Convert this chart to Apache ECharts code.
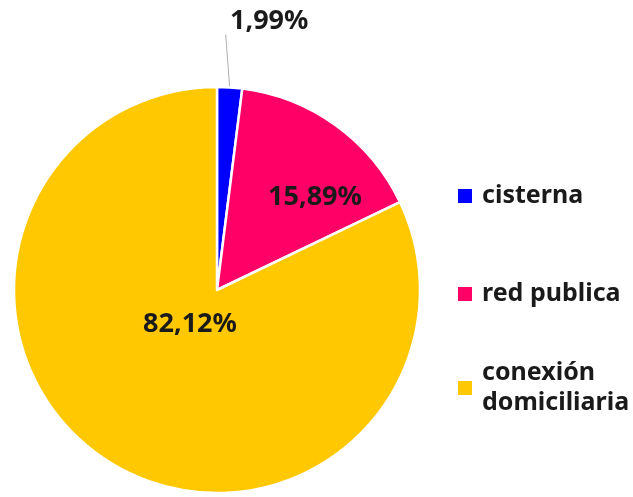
<!DOCTYPE html>
<html>
<head>
<meta charset="utf-8">
<script src="https://cdn.jsdelivr.net/npm/echarts@6/dist/echarts.min.js"></script>
<style>
  html, body { margin: 0; padding: 0; background: #ffffff; }
  #chart { width: 633px; height: 497px; }
</style>
</head>
<body>
<div id="chart"></div>
<script>
// Abastecimiento de agua: participación por tipo
const categories = ['cisterna', 'red publica', 'conexión domiciliaria'];
const values = [1.99, 15.89, 82.12];
const colors = ['#0000FF', '#FF0066', '#FFC800'];
const valueLabels = ['1,99%', '15,89%', '82,12%'];

// where each slice label sits on the canvas
const labelAnchors = [
  { x: 143, y: 21, align: 'left', verticalAlign: 'middle' },
  { x: 315, y: 197, align: 'center', verticalAlign: 'middle' },
  { x: 190, y: 324, align: 'center', verticalAlign: 'middle' }
];

const FONT = '"Noto Sans", sans-serif';
const TEXT_COLOR = '#1a1a1a';

const pieData = categories.map((name, i) => ({
  name: name,
  value: values[i],
  itemStyle: { color: colors[i] },
  // the small slice gets an outside label; the wide left padding centres its
  // box under the leader line, which then ends just left of the text
  label: i === 0
    ? { position: 'outside', formatter: valueLabels[i], padding: [0, 0, 0, 87], lineHeight: 12 }
    : { position: 'inside', formatter: valueLabels[i] },
  labelLine: { show: i === 0 }
}));

function legendFor(i, top) {
  const multi = i === 2;
  return {
    orient: 'vertical',
    left: 456,
    top: top,
    padding: 0,
    itemWidth: 16,
    itemHeight: 16,
    icon: 'rect',
    selectedMode: false,
    data: [categories[i]],
    formatter: multi ? 'conexión\ndomiciliaria' : '{name}',
    textStyle: {
      fontFamily: FONT,
      fontSize: 25,
      fontWeight: 'bold',
      color: TEXT_COLOR,
      lineHeight: 30,
      padding: multi ? [30, 0, 0, 4] : [0, 0, 0, 4]
    }
  };
}

const chart = echarts.init(document.getElementById('chart'), null, { renderer: 'canvas' });
chart.setOption({
  animation: false,
  backgroundColor: '#ffffff',
  color: colors,
  legend: [legendFor(0, 181), legendFor(1, 279), legendFor(2, 343)],
  series: [{
    type: 'pie',
    center: [217, 290],
    radius: 203,
    startAngle: 90,
    clockwise: true,
    avoidLabelOverlap: false,
    itemStyle: { borderColor: '#ffffff', borderWidth: 2.5 },
    emphasis: { disabled: true },
    label: {
      show: true,
      fontFamily: FONT,
      fontSize: 27,
      fontWeight: 'bold',
      color: TEXT_COLOR
    },
    labelLine: {
      length: 40,
      length2: 0,
      lineStyle: { color: '#b0b0b0', width: 1 }
    },
    labelLayout: function (params) {
      return labelAnchors[params.dataIndex];
    },
    data: pieData
  }]
});
</script>
</body>
</html>
